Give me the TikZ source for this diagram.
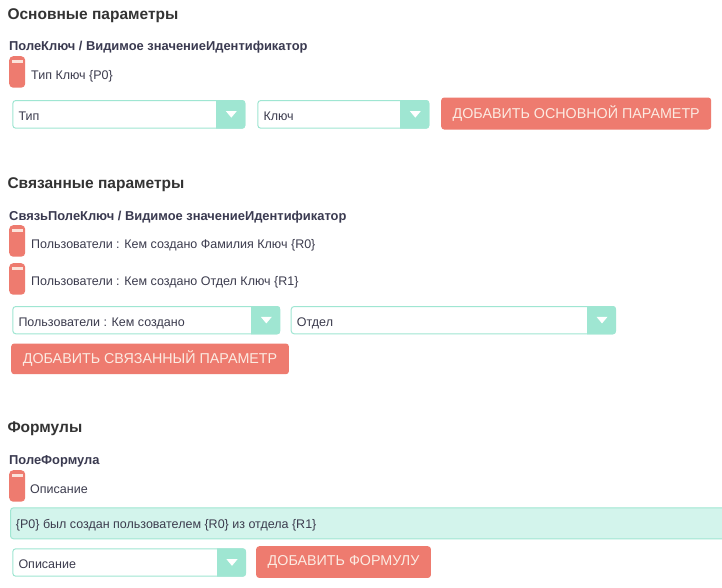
\documentclass[tikz,border=0pt]{standalone}
\usepackage{fontspec}
\setmainfont{Liberation Sans}
\usetikzlibrary{calc}
\definecolor{redc}{HTML}{EE7B6F}
\definecolor{barc}{HTML}{FBE3DA}
\definecolor{mintc}{HTML}{9FE6D2}
\definecolor{formc}{HTML}{D3F4EC}
\definecolor{titlec}{HTML}{333333}
\definecolor{hdrc}{HTML}{3A3A50}
\definecolor{txtc}{HTML}{3C3C4E}
\definecolor{btntc}{HTML}{FCEBE2}
\tikzset{
  titletext/.style={anchor=base west, inner sep=0pt, font=\fontsize{15.5}{19}\selectfont\bfseries, text=titlec},
  hdrtext/.style={anchor=base west, inner sep=0pt, font=\fontsize{12.9}{15}\selectfont\bfseries, text=hdrc},
  lbltext/.style={anchor=base west, inner sep=0pt, font=\fontsize{12.5}{15}\selectfont, text=txtc},
  handlebox/.style={anchor=north west, inner sep=0pt, fill=redc, rounded corners=4pt, minimum width=16pt, minimum height=31.5pt},
  ddframe/.style={anchor=north west, inner sep=0pt, draw=mintc, line width=1pt, fill=white, rounded corners=3pt},
  btnbox/.style={anchor=north west, inner sep=0pt, fill=redc, rounded corners=3pt, text=btntc, font=\fontsize{14.3}{16}\selectfont},
  formbox/.style={anchor=north west, inner sep=0pt, draw=mintc, line width=1pt, fill=formc, rounded corners=3pt}
}
% dropdown: name, x, y, width, height, text
\newcommand{\mkdrop}[6]{%
  \node[ddframe, minimum width=#4pt, minimum height=#5pt] (#1) at (#2,#3) {};
  \begin{scope}
    \clip[rounded corners=3pt] (#1.north west) rectangle (#1.south east);
    \fill[mintc] ([xshift=-29pt]#1.north east) rectangle ([xshift=1pt,yshift=-1pt]#1.south east);
  \end{scope}
  \coordinate (#1c) at ([xshift=-14pt]#1.east);
  \fill[white] ([shift={(-5.5pt,3.3pt)}]#1c) -- ([shift={(5.5pt,3.3pt)}]#1c) -- ([shift={(0pt,-3.3pt)}]#1c) -- cycle;
  \node[lbltext] (#1t) at ([xshift=6pt,yshift=-20pt]#1.north west) {#6};
}
% handle: name, y
\newcommand{\mkhandle}[2]{%
  \node[handlebox] (#1) at (9,#2) {};
  \fill[barc] ([shift={(2.7pt,-4pt)}]#1.north west) rectangle ([shift={(-2.7pt,-7pt)}]#1.north east);
}
\begin{document}
\begin{tikzpicture}[x=1pt,y=-1pt]
\path[use as bounding box, fill=white] (0,0) rectangle (722,587);

% ---- Section 1
\node[titletext] (t1) at (7.3,19.5) {Основные параметры};
\node[hdrtext] (h1) at (9,50) {ПолеКлюч / Видимое значениеИдентификатор};
\mkhandle{hA}{56}
\node[lbltext] (lA) at (31,79.5) {Тип Ключ \{P0\}};
\mkdrop{d1}{12.3}{100}{232}{27.7}{Тип}
\mkdrop{d2}{257.3}{100}{171}{27.7}{Ключ}
\node[btnbox, minimum width=270pt, minimum height=32pt] (b1) at (441,97.3) {ДОБАВИТЬ ОСНОВНОЙ ПАРАМЕТР};

% ---- Section 2
\node[titletext] (t2) at (7.3,188) {Связанные параметры};
\node[hdrtext] (h2) at (9,220) {СвязьПолеКлюч / Видимое значениеИдентификатор};
\mkhandle{hB}{225}
\node[lbltext] (lB) at (31,248) {Пользователи : Кем создано Фамилия Ключ \{R0\}};
\mkhandle{hC}{263}
\node[lbltext] (lC) at (31,285.7) {Пользователи : Кем создано Отдел Ключ \{R1\}};
\mkdrop{d3}{12.3}{306}{267}{27.3}{Пользователи : Кем создано}
\mkdrop{d4}{290.7}{306}{324.3}{27.3}{Отдел}
\node[btnbox, minimum width=277.7pt, minimum height=30.7pt] (b2) at (11,343.3) {ДОБАВИТЬ СВЯЗАННЫЙ ПАРАМЕТР};

% ---- Section 3
\node[titletext] (t3) at (7.3,432.7) {Формулы};
\node[hdrtext] (h3) at (9,464) {ПолеФормула};
\mkhandle{hD}{470}
\node[lbltext] (lD) at (30,493.3) {Описание};
\node[formbox, minimum width=730pt, minimum height=31pt] (f1) at (10,507.3) {};
\node[lbltext] (f1t) at (15.7,528) {\{P0\} был создан пользователем \{R0\} из отдела \{R1\}};
\mkdrop{d5}{12.3}{548.3}{232.7}{27.4}{Описание}
\node[btnbox, minimum width=174.7pt, minimum height=31.7pt] (b3) at (256,546) {ДОБАВИТЬ ФОРМУЛУ};
\end{tikzpicture}
\end{document}
